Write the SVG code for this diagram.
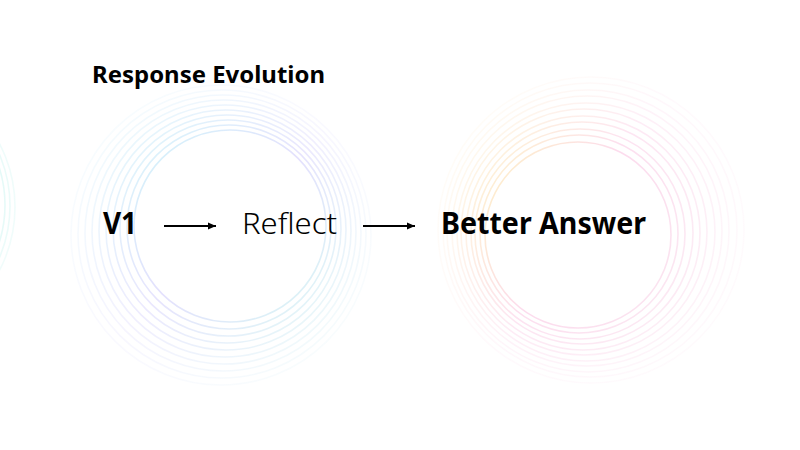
<svg xmlns="http://www.w3.org/2000/svg" width="800" height="450" viewBox="0 0 800 450">
<defs>
<linearGradient id="gL" x1="0" y1="0" x2="1" y2="1">
<stop offset="0" stop-color="#a8ecf5"/>
<stop offset="0.5" stop-color="#c9c2fb"/>
<stop offset="1" stop-color="#b4f0ea"/>
</linearGradient>
<linearGradient id="gR" x1="0" y1="0" x2="1" y2="0.6">
<stop offset="0" stop-color="#fde68a"/>
<stop offset="0.55" stop-color="#f9b8dc"/>
<stop offset="1" stop-color="#f7c6e0"/>
</linearGradient>
<linearGradient id="gE" x1="0" y1="0" x2="0" y2="1">
<stop offset="0" stop-color="#b4f0ea"/>
<stop offset="1" stop-color="#c9f3ef"/>
</linearGradient>
<marker id="ah" viewBox="0 0 8 8" refX="8" refY="4" markerWidth="8" markerHeight="8" markerUnits="userSpaceOnUse" orient="auto">
<path d="M0,0.5 L8,4 L0,7.5 Z" fill="#000"/>
</marker>
<style>
.ring{fill:none;stroke-width:1.6}
.lbl{font-family:"Noto Sans","Open Sans","Liberation Sans",sans-serif;fill:#000}
.b{font-weight:700}
.conn{stroke:#000;stroke-width:2;fill:none}
</style>
</defs>
<rect width="800" height="450" fill="#fff"/>
<g id="bg-rings">
<g stroke="url(#gE)" class="ring">
<circle cx="-120" cy="205" r="125" opacity="0.4"/>
<circle cx="-121" cy="206" r="131" opacity="0.32"/>
<circle cx="-122" cy="207" r="137" opacity="0.24"/>
</g>
<g stroke="url(#gL)" class="ring">
<circle cx="230" cy="226" r="96" opacity="0.5"/>
<circle cx="229" cy="227" r="102" opacity="0.45"/>
<circle cx="228" cy="228" r="108" opacity="0.4"/>
<circle cx="227" cy="229" r="114" opacity="0.36"/>
<circle cx="226" cy="230" r="120" opacity="0.32"/>
<circle cx="225" cy="231" r="126" opacity="0.27"/>
<circle cx="224" cy="232" r="132" opacity="0.22"/>
<circle cx="223" cy="233" r="138" opacity="0.18"/>
<circle cx="222" cy="234" r="144" opacity="0.14"/>
<circle cx="221" cy="235" r="150" opacity="0.1"/>
</g>
<g stroke="url(#gR)" class="ring">
<circle cx="578" cy="235" r="93" opacity="0.5"/>
<circle cx="579" cy="234" r="99" opacity="0.45"/>
<circle cx="580" cy="234" r="105" opacity="0.4"/>
<circle cx="582" cy="233" r="111" opacity="0.36"/>
<circle cx="583" cy="233" r="117" opacity="0.31"/>
<circle cx="584" cy="232" r="123" opacity="0.27"/>
<circle cx="586" cy="232" r="129" opacity="0.22"/>
<circle cx="587" cy="231" r="135" opacity="0.18"/>
<circle cx="588" cy="231" r="141" opacity="0.14"/>
<circle cx="590" cy="230" r="147" opacity="0.11"/>
<circle cx="591" cy="230" r="153" opacity="0.08"/>
</g>
</g>
<g id="title"><text class="lbl b" x="92" y="83" font-size="24" textLength="233" lengthAdjust="spacingAndGlyphs">Response Evolution</text></g>
<g id="node-v1"><text class="lbl b" x="103" y="234" font-size="30" textLength="34" lengthAdjust="spacingAndGlyphs">V1</text></g>
<g id="node-reflect"><text class="lbl" x="242" y="234" font-size="30" font-weight="300" textLength="95" lengthAdjust="spacingAndGlyphs">Reflect</text></g>
<g id="node-better"><text class="lbl b" x="441" y="234" font-size="30" textLength="205" lengthAdjust="spacingAndGlyphs">Better Answer</text></g>
<g id="connectors">
<line class="conn" x1="164" y1="226" x2="216" y2="226" marker-end="url(#ah)"/>
<line class="conn" x1="363" y1="226" x2="415" y2="226" marker-end="url(#ah)"/>
</g>
</svg>
